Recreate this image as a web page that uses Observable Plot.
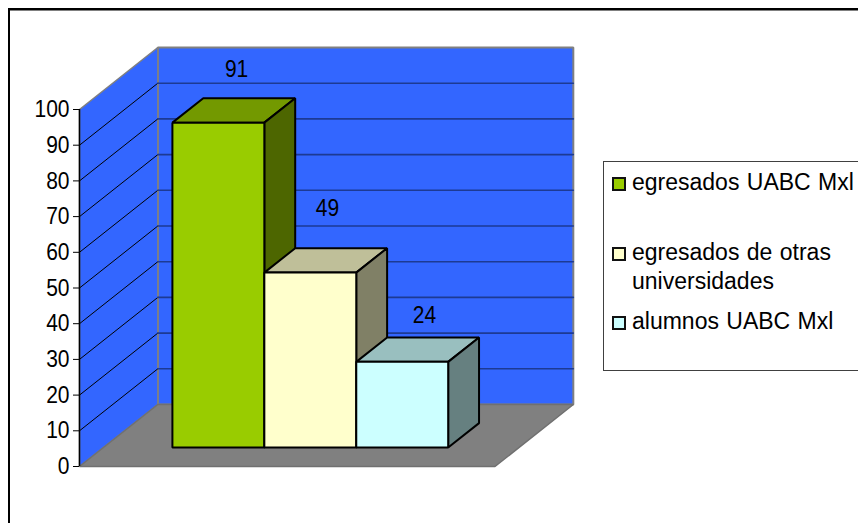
<!DOCTYPE html>
<html lang="es">
<head>
<meta charset="utf-8">
<script src="https://cdn.jsdelivr.net/npm/d3@7"></script>
<script src="https://cdn.jsdelivr.net/npm/@observablehq/plot@0.6"></script>
<style>
  html, body { margin: 0; background: #fff; overflow: hidden; }
  #chart { position: relative; width: 858px; height: 523px; overflow: hidden; font-family: "Liberation Sans", Arial, sans-serif; color: #000; }
  #chart svg { position: absolute; left: 0; top: 0; background: transparent; }
  .frame { position: absolute; left: 8px; top: 8px; width: 900px; height: 600px; border: 2px solid #000; box-shadow: 0 1px 0 #808080 inset; box-sizing: border-box; }
  .legend { position: absolute; left: 603px; top: 161px; width: 300px; height: 210px; border: 1px solid #404040; box-sizing: border-box; background: #fff; }
  .swatch { position: absolute; left: 612px; width: 14px; height: 14px; border: 2px solid #111; box-sizing: border-box; }
  .entry { position: absolute; left: 632px; font-size: 23px; line-height: 24px; white-space: nowrap; word-spacing: 1px; }
</style>
</head>
<body>
<div id="chart"><div class="frame"></div></div>
<script>
// Survey counts, one box per group.
const groups = ["egresados UABC Mxl", "egresados de otras universidades", "alumnos UABC Mxl"];
const counts = [91, 49, 24];
const frontFaces = ["#99CC00", "#FFFFCC", "#CCFFFF"];
const topFaces = ["#739900", "#BFBF99", "#99BFBF"];
const sideFaces = ["#4D6600", "#808066", "#668080"];
const yTicks = d3.range(0, 101, 10);

// Label offsets from the centre of each box top, in pixels.
const labelShiftX = [3, 2, 7];
const labelLift = [41, 52, 34];

// Pseudo-3D projection: x is in box widths, v in axis units, d is 0 at the
// front of the floor and 1 at the back wall.
const boxStart = 0.75;
const floorWidth = 4.52;
const depthX = 0.852;
const depthV = 17.37;
const boxFront = 0.306, boxBack = 0.7;
const project = (x, v, d) => [x + d * depthX, v + d * depthV];

const poly = (corners, fill, stroke, strokeWidth) =>
  Plot.line(corners.map(c => project(...c)), {
    x: p => p[0], y: p => p[1], curve: "linear-closed",
    fill, stroke, strokeWidth, strokeLinejoin: "miter"
  });

const seg = (a, b, stroke, strokeWidth) =>
  Plot.line([project(...a), project(...b)], {x: p => p[0], y: p => p[1], stroke, strokeWidth});

const marks = [];

// Walls and floor
marks.push(poly([[0, 0, 1], [floorWidth, 0, 1], [floorWidth, 100, 1], [0, 100, 1]], "#3366FF", "#808080", 2));
marks.push(poly([[0, 0, 0], [0, 0, 1], [0, 100, 1], [0, 100, 0]], "#3366FF", "#808080", 1.5));
marks.push(poly([[0, 0, 0], [floorWidth, 0, 0], [floorWidth, 0, 1], [0, 0, 1]], "#808080", "#707070", 1.5));

// Gridlines on both walls
for (const t of yTicks.slice(1, -1)) {
  marks.push(seg([0, t, 0], [0, t, 1], "#000", 1));
  marks.push(seg([0, t, 1], [floorWidth, t, 1], "#1D3A94", 1.6));
}

// Boxes, drawn left to right so each one overlaps its neighbour's side
counts.forEach((v, i) => {
  const x0 = boxStart + i, x1 = x0 + 1;
  marks.push(poly([[x0, v, boxFront], [x0, v, boxBack], [x1, v, boxBack], [x1, v, boxFront]], topFaces[i], "#000", 2));
  marks.push(poly([[x1, 0, boxFront], [x1, 0, boxBack], [x1, v, boxBack], [x1, v, boxFront]], sideFaces[i], "#000", 2));
  marks.push(poly([[x0, 0, boxFront], [x1, 0, boxFront], [x1, v, boxFront], [x0, v, boxFront]], frontFaces[i], "#000", 2));
});

// Value labels over the centre of each box top
counts.forEach((v, i) => {
  const [lx, lv] = project(boxStart + i + 0.5, v, 0.5);
  marks.push(Plot.text([String(v)], {
    x: [lx], y: [lv], text: d => d, dx: labelShiftX[i], dy: -labelLift[i], fontSize: 24, fill: "#000"
  }));
});

// Value axis along the front of the left wall
marks.push(Plot.axisY({
  ticks: yTicks, tickFormat: d3.format("d"), tickSize: 6, tickPadding: 4,
  fontSize: 24, label: null, stroke: "#000", fill: "#000", marginLeft: 79
}));
marks.push(Plot.ruleX([0], {y1: 0, y2: 100, stroke: "#000", strokeWidth: 1.5}));

const plot = Plot.plot({
  width: 858,
  height: 523,
  marginLeft: 79, marginTop: 0, marginRight: 0, marginBottom: 0,
  style: {fontFamily: "'Liberation Sans', Arial, sans-serif", background: "transparent", overflow: "visible"},
  x: {domain: [0, floorWidth], range: [79, 494.5], axis: null},
  y: {domain: [0, 100], range: [466, 109]},
  marks
});

// The numerals are set condensed
plot.querySelectorAll("text").forEach(t => {
  t.setAttribute("transform", (t.getAttribute("transform") || "") + " scale(0.875,1)");
});

const root = document.getElementById("chart");
root.appendChild(plot);

// Legend to the right of the plot
const legend = document.createElement("div");
legend.className = "legend";
root.appendChild(legend);
const rows = [
  {swatchTop: 177, lines: [["egresados UABC Mxl", 170]]},
  {swatchTop: 247, lines: [["egresados de otras", 240], ["universidades", 269]]},
  {swatchTop: 316, lines: [["alumnos UABC Mxl", 309]]}
];
rows.forEach((row, i) => {
  const s = document.createElement("div");
  s.className = "swatch";
  s.style.top = row.swatchTop + "px";
  s.style.background = frontFaces[i];
  root.appendChild(s);
  for (const [text, top] of row.lines) {
    const e = document.createElement("div");
    e.className = "entry";
    e.style.top = top + "px";
    e.textContent = text;
    root.appendChild(e);
  }
});
</script>
</body>
</html>
